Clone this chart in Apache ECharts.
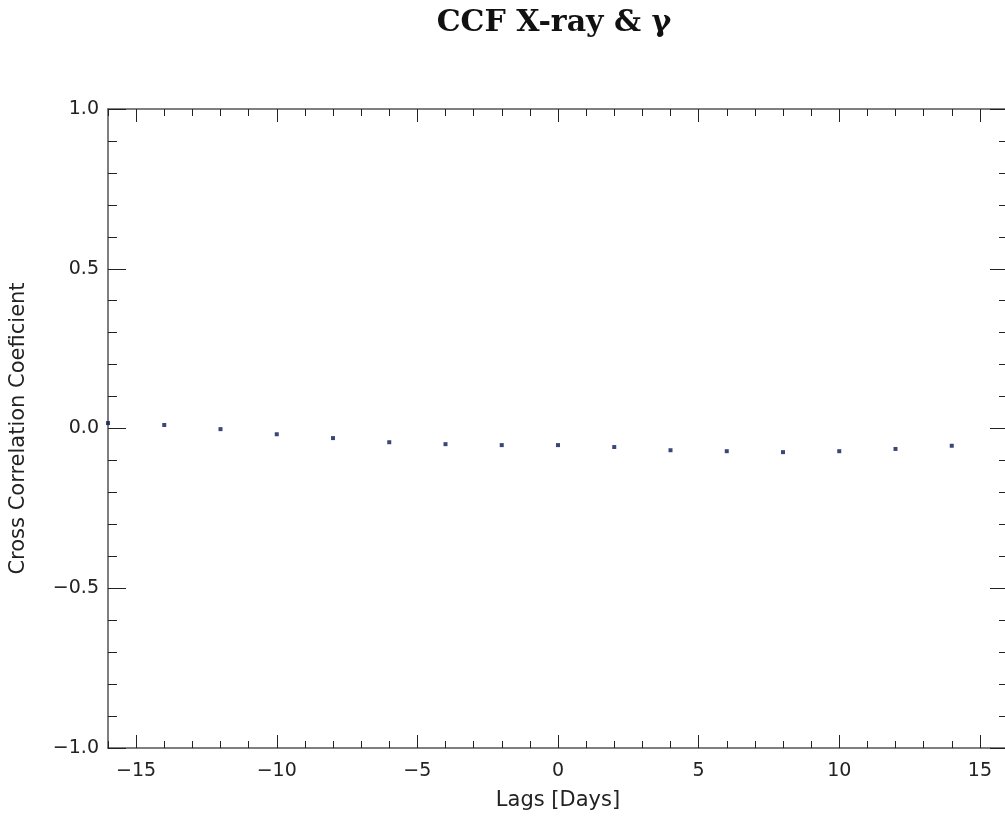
<!DOCTYPE html>
<html>
<head>
<meta charset="utf-8">
<script src="https://cdn.jsdelivr.net/npm/echarts@6/dist/echarts.min.js"></script>
<style>html,body{margin:0;padding:0;background:#fff;}#c{width:1005px;height:820px;}</style>
</head>
<body>
<div id="c"></div>
<script>
const lags = [-16, -14, -12, -10, -8, -6, -4, -2, 0, 2, 4, 6, 8, 10, 12, 14];
const ccf = [0.017, 0.011, -0.002, -0.018, -0.030, -0.043, -0.049, -0.052, -0.052, -0.058, -0.068, -0.071, -0.074, -0.071, -0.064, -0.054];
const xMajor = [-15, -10, -5, 0, 5, 10, 15];
const xMinor = [-16, -14, -13, -12, -11, -9, -8, -7, -6, -4, -3, -2, -1, 1, 2, 3, 4, 6, 7, 8, 9, 11, 12, 13, 14, 16];
const titleText = 'CCF X-ray & γ';
const xTitle = 'Lags [Days]';
const yTitle = 'Cross Correlation Coeficient';

const font = 'DejaVu Sans';
const lineCol = '#555';
const tickCol = '#222';
const txtCol = '#222';

function xAx(pos, vals, len, showLine, labels) {
  return {
    type: 'value', position: pos, min: -16, max: 16,
    axisLine: {show: showLine, onZero: false, lineStyle: {color: lineCol, width: 1.5}},
    axisTick: {show: true, inside: true, length: len, customValues: vals, lineStyle: {color: tickCol, width: 1}},
    axisLabel: labels ? {show: true, customValues: xMajor, margin: 14, color: txtCol, fontFamily: font, fontSize: 19,
      formatter: v => (v < 0 ? '\u2212' + Math.abs(v) : String(v))} : {show: false},
    splitLine: {show: false},
    name: labels ? xTitle : '', nameLocation: 'middle', nameGap: 42,
    nameTextStyle: {color: txtCol, fontFamily: font, fontSize: 21}
  };
}
function yAx(pos, labels) {
  return {
    type: 'value', position: pos, min: -1, max: 1, interval: 0.5,
    axisLine: {show: true, onZero: false, lineStyle: {color: lineCol, width: 1.5}},
    axisTick: {show: true, inside: true, length: 18, lineStyle: {color: tickCol, width: 1}},
    minorTick: {show: true, splitNumber: 5, length: 9, lineStyle: {color: tickCol, width: 1}},
    axisLabel: labels ? {show: true, margin: 9, color: txtCol, fontFamily: font, fontSize: 19,
      formatter: v => (v < 0 ? '\u2212' + Math.abs(v).toFixed(1) : v.toFixed(1))} : {show: false},
    splitLine: {show: false},
    name: labels ? yTitle : '', nameLocation: 'middle', nameGap: 79, nameRotate: 90,
    nameTextStyle: {color: txtCol, fontFamily: font, fontSize: 21}
  };
}

const chart = echarts.init(document.getElementById('c'), null, {renderer: 'canvas'});
chart.setOption({
  backgroundColor: '#fff',
  animation: false,
  title: {text: titleText, left: 549, top: 3, textAlign: 'center',
    textStyle: {fontFamily: 'DejaVu Serif', fontWeight: 'bold', fontSize: 30, color: '#111'}},
  grid: {left: 108, top: 109, right: -3, bottom: 72, containLabel: false, outerBoundsMode: 'none'},
  xAxis: [
    xAx('bottom', xMajor, 13, true, true),
    xAx('bottom', xMinor, 7, false, false),
    xAx('top', xMajor, 13, true, false),
    xAx('top', xMinor, 7, false, false)
  ],
  yAxis: [yAx('left', true), yAx('right', false)],
  series: [{
    type: 'scatter', xAxisIndex: 0, yAxisIndex: 0,
    symbol: 'rect', symbolSize: 4,
    itemStyle: {color: '#0a1a55'},
    data: lags.map((x, i) => [x, ccf[i]])
  }]
});
</script>
</body>
</html>
